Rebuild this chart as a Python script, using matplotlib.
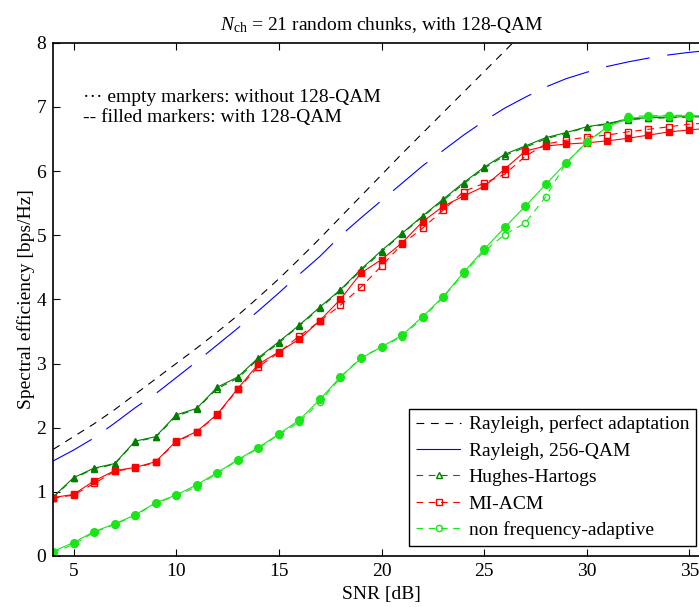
import numpy as np
import matplotlib
matplotlib.use("Agg")
from matplotlib import pyplot as plt

plt.rcParams['font.family'] = ['Liberation Serif', 'DejaVu Serif']
plt.rcParams['mathtext.fontset'] = 'custom'
plt.rcParams['mathtext.rm'] = 'Liberation Serif'
plt.rcParams['mathtext.it'] = 'Liberation Serif:italic'

# SNR grid [dB]
snr = np.arange(4, 37)

# Rayleigh, perfect adaptation (black dashed)
snr_perf = np.arange(4, 28)
perfect = [1.66, 1.86, 2.06, 2.28, 2.52, 2.76, 3.00, 3.24, 3.49, 3.75, 4.03, 4.32,
           4.63, 4.95, 5.28, 5.61, 5.94, 6.27, 6.59, 6.91, 7.23, 7.55, 7.87, 8.19]

# Rayleigh, 256-QAM (blue long dash)
qam256 = [1.48, 1.65, 1.84, 2.07, 2.31, 2.53, 2.78, 3.03, 3.29, 3.55, 3.82, 4.10,
          4.39, 4.67, 4.99, 5.27, 5.54, 5.81, 6.08, 6.32, 6.56, 6.78, 6.98, 7.15,
          7.31, 7.44, 7.54, 7.63, 7.70, 7.76, 7.81, 7.85, 7.88]

# Hughes-Hartogs: with 128-QAM (filled) / without (empty)
hh_with = [0.92, 1.22, 1.37, 1.44, 1.79, 1.86, 2.20, 2.30, 2.63, 2.79, 3.09, 3.34,
           3.60, 3.88, 4.15, 4.47, 4.76, 5.03, 5.30, 5.56, 5.82, 6.06, 6.26, 6.39,
           6.52, 6.60, 6.69, 6.74, 6.81, 6.83, 6.84, 6.85, 6.86]
hh_without = [0.91, 1.21, 1.36, 1.43, 1.78, 1.85, 2.18, 2.29, 2.61, 2.77, 3.07, 3.32,
              3.59, 3.86, 4.14, 4.45, 4.74, 5.02, 5.29, 5.54, 5.80, 6.04, 6.24, 6.37,
              6.50, 6.59, 6.68, 6.73, 6.80, 6.82, 6.83, 6.84, 6.85]

# MI-ACM: with 128-QAM (filled) / without (empty)
mi_with = [0.91, 0.96, 1.17, 1.33, 1.38, 1.47, 1.79, 1.94, 2.21, 2.61, 2.99, 3.18,
           3.38, 3.67, 4.00, 4.41, 4.62, 4.88, 5.21, 5.45, 5.61, 5.76, 6.03, 6.31,
           6.39, 6.42, 6.44, 6.47, 6.51, 6.56, 6.61, 6.64, 6.67]
mi_without = [0.90, 0.95, 1.13, 1.32, 1.37, 1.46, 1.78, 1.93, 2.20, 2.60, 2.95, 3.17,
              3.43, 3.66, 3.91, 4.19, 4.52, 4.86, 5.11, 5.39, 5.68, 5.81, 5.95, 6.23,
              6.42, 6.48, 6.53, 6.56, 6.61, 6.65, 6.69, 6.73, 6.75]

# non frequency-adaptive: with 128-QAM (filled) / without (empty)
nfa_with = [0.07, 0.21, 0.38, 0.50, 0.64, 0.83, 0.95, 1.11, 1.30, 1.50, 1.69, 1.90,
            2.12, 2.44, 2.79, 3.08, 3.26, 3.44, 3.73, 4.04, 4.42, 4.78, 5.12, 5.45,
            5.79, 6.13, 6.45, 6.69, 6.82, 6.85, 6.86, 6.86, 6.86]
nfa_without = [0.05, 0.18, 0.37, 0.49, 0.63, 0.82, 0.94, 1.08, 1.29, 1.49, 1.68, 1.89,
               2.09, 2.40, 2.78, 3.10, 3.25, 3.42, 3.71, 4.03, 4.40, 4.75, 5.01, 5.19,
               5.60, 6.13, 6.45, 6.68, 6.85, 6.86, 6.87, 6.87, 6.87]

dgreen = '#007f00'
red = '#ff0000'
lgreen = '#19e619'

fig = plt.figure(figsize=(6.99, 6.07), dpi=100)
ax = fig.add_axes([53/699, 51/607, 657/699, 513.3/607])

ax.plot(snr_perf, perfect, color='k', lw=0.8, dashes=(7, 6),
        label='Rayleigh, perfect adaptation')
ax.plot(snr, qam256, color='#0000ff', lw=0.8, dashes=(40, 16),
        label='Rayleigh, 256-QAM')

# empty markers (without 128-QAM), dashed
ax.plot(snr, hh_without, color=dgreen, lw=0.8, dashes=(6, 5), marker='^', ms=4,
        mfc='none', mec=dgreen, label='Hughes-Hartogs')
ax.plot(snr, mi_without, color=red, lw=0.8, dashes=(6, 5), marker='s', ms=4.5,
        mfc='none', mec=red, label='MI-ACM')
ax.plot(snr, nfa_without, color=lgreen, lw=0.8, dashes=(6, 5), marker='o', ms=4.5,
        mfc='none', mec=lgreen, label='non frequency-adaptive')

# filled markers (with 128-QAM), solid
ax.plot(snr, hh_with, color=dgreen, lw=0.8, marker='^', ms=4.5, mfc=dgreen, mec=dgreen)
ax.plot(snr, mi_with, color=red, lw=0.8, marker='s', ms=5, mfc=red, mec=red)
ax.plot(snr, nfa_with, color=lgreen, lw=0.8, marker='o', ms=5.5, mfc=lgreen, mec=lgreen)

ax.set_xlim(4, 36)
ax.set_ylim(0, 8)
ax.set_xticks([5, 10, 15, 20, 25, 30, 35])
ax.set_yticks(range(0, 9))
ax.tick_params(direction='in', length=5, width=0.8, labelsize=14, top=True,
               right=False, pad=5)
for s in ['left', 'bottom', 'top']:
    ax.spines[s].set_linewidth(1.2)
ax.spines['right'].set_visible(False)

ax.set_title(r'$N_{\mathrm{ch}}$ = 21 random chunks, with 128-QAM', fontsize=14, pad=9)
ax.set_xlabel('SNR [dB]', fontsize=14, labelpad=4)
ax.set_ylabel('Spectral efficiency [bps/Hz]', fontsize=14, labelpad=0.5)

ax.text(5.48, 7.15, '\u00b7\u00b7\u00b7 empty markers: without 128-QAM', fontsize=14,
        va='center', ha='left')
ax.text(5.48, 6.84, '-- filled markers: with 128-QAM', fontsize=14,
        va='center', ha='left')

leg = ax.legend(loc='lower right', bbox_to_anchor=(696/699, 61/607),
                bbox_transform=fig.transFigure, borderaxespad=0, fontsize=14,
                fancybox=False, framealpha=1, edgecolor='k', handlelength=2.3,
                handletextpad=0.4, labelspacing=0.45, borderpad=0.35)
leg.get_frame().set_linewidth(1.0)

fig.savefig('out.png', dpi=100)
